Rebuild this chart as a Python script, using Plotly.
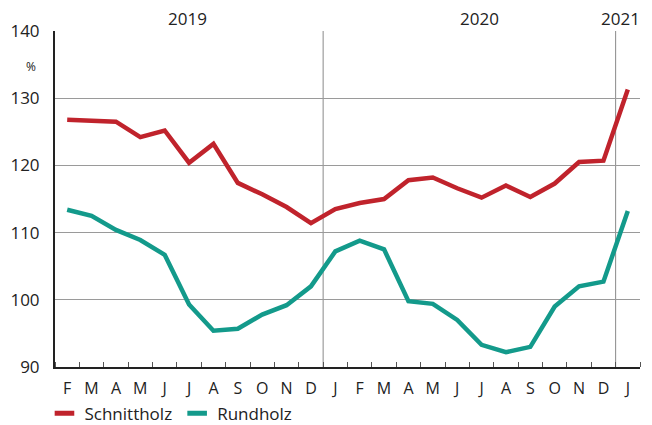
import plotly.graph_objects as go

months = ["F", "M", "A", "M", "J", "J", "A", "S", "O", "N", "D",
          "J", "F", "M", "A", "M", "J", "J", "A", "S", "O", "N", "D", "J"]
schnittholz = [126.8, 126.7, 126.5, 124.2, 125.2, 120.4, 123.2, 117.4, 115.7, 113.8, 111.4,
               113.5, 114.4, 115.0, 117.8, 118.2, 116.6, 115.2, 117.0, 115.3, 117.3, 120.5, 120.7, 131.3]
rundholz = [113.4, 112.5, 110.4, 108.9, 106.7, 99.3, 95.4, 95.7, 97.8, 99.2, 102.0,
            107.2, 108.8, 107.5, 99.8, 99.4, 97.0, 93.3, 92.2, 93.0, 99.0, 102.0, 102.7, 113.2]
year_labels = ["2019", "2020", "2021"]
year_pos = [4.95, 16.9, 22.7]
year_breaks = [10.5, 22.5]
y_ticks = [90, 100, 110, 120, 130, 140]

x = list(range(len(months)))
RED = "#c0232c"
TEAL = "#139a8b"
FONT = "Open Sans"

fig = go.Figure()
fig.add_trace(go.Scatter(x=x, y=schnittholz, mode="lines", name="Schnittholz",
                         line=dict(color=RED, width=4.5), showlegend=False))
fig.add_trace(go.Scatter(x=x, y=rundholz, mode="lines", name="Rundholz",
                         line=dict(color=TEAL, width=4.5), showlegend=False))
# legend entries (short thick swatches)
for name, col in [("Schnittholz", RED), ("Rundholz", TEAL)]:
    fig.add_trace(go.Scatter(x=[None], y=[None], mode="markers", name=name,
                             marker=dict(symbol="line-ew", size=14,
                                         line=dict(color=col, width=6))))

for xb in year_breaks:
    fig.add_vline(x=xb, line=dict(color="#8a8a8a", width=1), layer="below")

for lbl, xp in zip(year_labels, year_pos):
    fig.add_annotation(x=xp, y=1, xref="x", yref="paper", text=lbl, showarrow=False,
                       yanchor="bottom", yshift=-1, font=dict(size=17, color="#222", family=FONT))

fig.add_annotation(x=-0.041, y=134.7, xref="paper", yref="y", text="%", showarrow=False,
                   xanchor="center", font=dict(size=12, color="#222", family=FONT))

fig.update_layout(
    width=644, height=417,
    margin=dict(l=47, r=12, t=23, b=58, autoexpand=False),
    paper_bgcolor="white", plot_bgcolor="white",
    font=dict(family=FONT, color="#222"),
    showlegend=True,
    legend=dict(orientation="h", x=-0.018, xanchor="left", y=-0.139, yanchor="middle",
                font=dict(size=17, family=FONT, color="#222"), itemwidth=30,
                tracegroupgap=0, bgcolor="rgba(0,0,0,0)"),
)
fig.update_xaxes(
    range=[-0.5, 23.5], tickmode="array", tickvals=x, ticktext=months,
    ticks="", showgrid=False, zeroline=False, automargin=False,
    showline=True, linecolor="#222", linewidth=2, ticklabelstandoff=6,
    tickfont=dict(size=16, family=FONT, color="#222"),
    minor=dict(tickmode="linear", tick0=0.5, dtick=1, ticks="inside", ticklen=5,
               tickcolor="#555", tickwidth=1, showgrid=False),
)
fig.update_yaxes(
    range=[90, 140], tickmode="array", tickvals=y_ticks, automargin=False,
    showgrid=True, gridcolor="#9a9a9a", gridwidth=1, zeroline=False,
    showline=True, linecolor="#222", linewidth=2,
    ticks="outside", ticklen=10, tickcolor="rgba(0,0,0,0)",
    tickfont=dict(size=17, family=FONT, color="#222"),
)

fig.write_html("out.html")
